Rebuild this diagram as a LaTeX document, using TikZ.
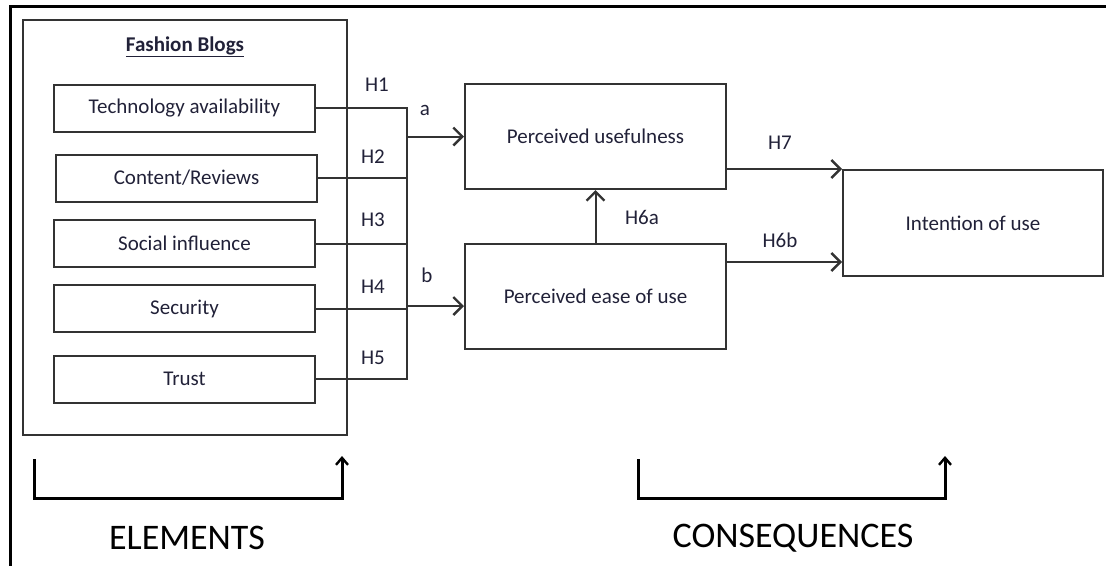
\documentclass[tikz,border=0pt]{standalone}
\usepackage{fontspec}
\setmainfont{Carlito}
\usetikzlibrary{arrows.meta}

\definecolor{linegray}{rgb}{0.2,0.2,0.2}
\definecolor{txtdark}{rgb}{0.13,0.13,0.22}

\begin{document}
\begin{tikzpicture}[x=1pt,y=-1pt,
        box/.style={draw=linegray, line width=2pt, minimum width=261pt, minimum height=47pt, inner sep=0pt, font=\fontsize{21}{24}\selectfont, text=txtdark},
        bigbox/.style={box, minimum height=105pt},
        lbl/.style={font=\fontsize{21}{24}\selectfont, inner sep=0pt, text=txtdark},
        conn/.style={linegray, line width=2pt},
        tip/.style={conn, -{Straight Barb[length=9pt,width=18pt,line width=2.4pt]}},
        bracket/.style={black, line width=3pt, -{Straight Barb[length=7pt,width=12pt,line width=2.4pt]}},
        big/.style={font=\fontsize{36}{40}\selectfont, inner sep=0pt}]
        \useasboundingbox (0,0) rectangle (1106,566);

        % frame (cut at the right and bottom)
        \draw[black, line width=3pt] (1106,6) -- (10,6) -- (10,566);

        % fashion blogs
        \node[draw=linegray, line width=2pt, minimum width=324pt, minimum height=415pt, inner sep=0pt] (blogs) at (185,227.5) {};
        \node[lbl, font=\fontsize{21}{24}\selectfont\bfseries] (title) at (185,47) {\underline{Fashion Blogs}};

        \node[box] (tech) at (184.5,108) {Technology availability};
        \node[box] (content) at (186.5,178) {Content/Reviews};
        \node[box] (social) at (184.5,243.5) {Social influence};
        \node[box] (security) at (184.5,308.5) {Security};
        \node[box] (trust) at (184.5,379) {Trust};

        \node[bigbox] (useful) at (595.5,136.5) {Perceived usefulness};
        \node[bigbox] (ease) at (595.5,296.5) {Perceived ease of use};
        \node[bigbox, minimum width=260pt, minimum height=106pt] (intent) at (973,223) {Intention of use};

        % bus
        \coordinate (bus1) at (407,108);
        \coordinate (bus5) at (407,379);
        \coordinate (bjoin) at (407,306);
        \coordinate (sixb) at (726,262);
        \draw[conn] (tech.east) -- (bus1) -- (bus5) -- (trust.east);
        \foreach \n in {content,social,security}
            \draw[conn] (\n.east) -- (\n.east -| bus1);

        \draw[tip] (useful.west -| bus1) -- (useful.west);
        \draw[tip] (bjoin) -- (ease.west |- bjoin);
        \draw[tip] (ease.north) -- (useful.south);
        \draw[tip] (intent.north west -| useful.east) -- (intent.north west);
        \draw[tip] (sixb) -- (intent.west |- sixb);

        % labels
        \node[lbl] (h1) at (377,85) {H1};
        \node[lbl] (h2) at (373,157) {H2};
        \node[lbl] (h3) at (373,220) {H3};
        \node[lbl] (h4) at (373,287) {H4};
        \node[lbl] (h5) at (373,358) {H5};
        \node[lbl] (la) at (425,110) {a};
        \node[lbl] (lb) at (427,275) {b};
        \node[lbl] (h6a) at (642,217) {H6a};
        \node[lbl] (h7) at (780,143) {H7};
        \node[lbl] (h6b) at (780,240) {H6b};

        % brackets
        \coordinate (elemL) at (34,459);
        \coordinate (elemR) at (342,456);
        \coordinate (consL) at (638,459);
        \coordinate (consR) at (945,456);
        \draw[bracket] (elemL) -- ++(0,39) -| (elemR);
        \draw[bracket] (consL) -- ++(0,39) -| (consR);
        \node[big] (elements) at (187,538) {ELEMENTS};
        \node[big] (consequences) at (793,538) {CONSEQUENCES};
    \end{tikzpicture}
\end{document}
